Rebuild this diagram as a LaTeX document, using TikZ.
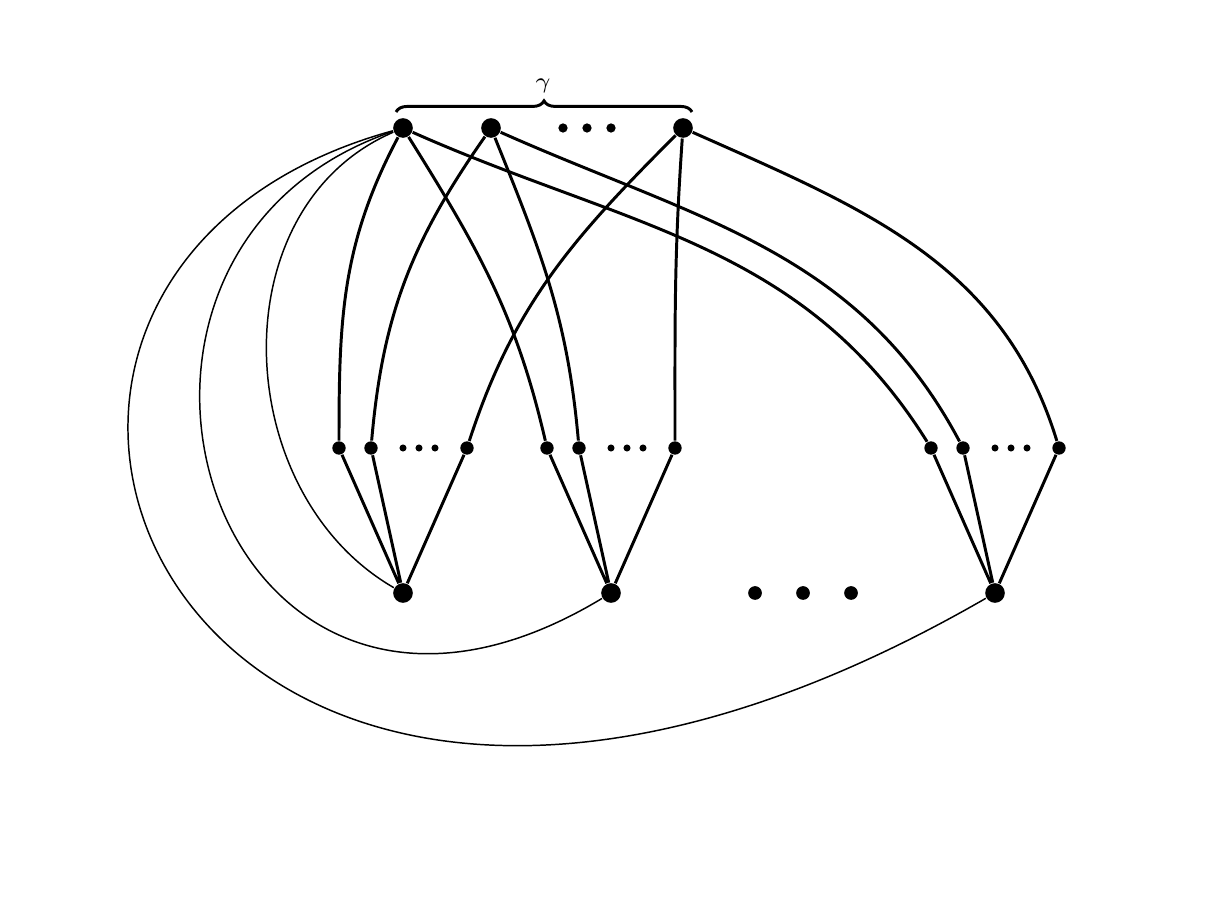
\documentclass[tikz,border=0pt]{standalone}
\usetikzlibrary{decorations.pathreplacing}
\begin{document}
\begin{tikzpicture}[x=0.27pt,y=0.27pt,
  big/.style={circle,fill=black,inner sep=0pt,minimum size=5.3pt},
  mid/.style={circle,fill=black,inner sep=0pt,minimum size=3.6pt},
  tdot/.style={circle,fill=black,inner sep=0pt,minimum size=2.5pt},
  mdot/.style={circle,fill=black,inner sep=0pt,minimum size=1.9pt},
  bdot/.style={circle,fill=black,inner sep=0pt,minimum size=3.7pt},
  thk/.style={line width=0.8pt},
  thn/.style={line width=0.4pt}]
\useasboundingbox (0,0) rectangle (1232,-912);
% top row
\node[big] (A1) at (403,-128) {};
\node[big] (A2) at (491,-128) {};
\node[tdot] (td1) at (563,-128) {};
\node[tdot] (td2) at (587,-128) {};
\node[tdot] (td3) at (611,-128) {};
\node[big] (A3) at (683,-128) {};
% brace
\coordinate (br1) at (396,-112);
\coordinate (br2) at (692,-112);
\draw[thk,decorate,decoration={brace,amplitude=3pt}] (br1) -- (br2);
\node[inner sep=0pt,font=\fontsize{6.5}{7}\selectfont] (g) at (543,-86) {$\gamma$};
% middle row
\node[mid] (L1) at (339,-448) {};
\node[mid] (L2) at (371,-448) {};
\node[mdot] (ld1) at (403,-448) {};
\node[mdot] (ld2) at (419,-448) {};
\node[mdot] (ld3) at (435,-448) {};
\node[mid] (Lk) at (467,-448) {};
\node[mid] (M1) at (547,-448) {};
\node[mid] (M2) at (579,-448) {};
\node[mdot] (md1) at (611,-448) {};
\node[mdot] (md2) at (627,-448) {};
\node[mdot] (md3) at (643,-448) {};
\node[mid] (Mk) at (675,-448) {};
\node[mid] (R1) at (931,-448) {};
\node[mid] (R2) at (963,-448) {};
\node[mdot] (rd1) at (995,-448) {};
\node[mdot] (rd2) at (1011,-448) {};
\node[mdot] (rd3) at (1027,-448) {};
\node[mid] (Rk) at (1059,-448) {};
% bottom row
\node[big] (B1) at (403,-593) {};
\node[big] (B2) at (611,-593) {};
\node[bdot] (bd1) at (755,-593) {};
\node[bdot] (bd2) at (803,-593) {};
\node[bdot] (bd3) at (851,-593) {};
\node[big] (B3) at (995,-593) {};
% middle to bottom
\draw[thk] (L1) -- (B1) (L2) -- (B1) (Lk) -- (B1);
\draw[thk] (M1) -- (B2) (M2) -- (B2) (Mk) -- (B2);
\draw[thk] (R1) -- (B3) (R2) -- (B3) (Rk) -- (B3);
% top to middle
\draw[thk] (A1) to[out=-118,in=90] (L1);
\draw[thk] (A1) to[out=-58,in=103] (M1);
\draw[thk] (A1) to[out=-24,in=122] (R1);
\draw[thk] (A2) to[out=-125,in=85] (L2);
\draw[thk] (A2) to[out=-68,in=95] (M2);
\draw[thk] (A2) to[out=-24,in=118] (R2);
\draw[thk] (A3) to[out=-135,in=72] (Lk);
\draw[thk] (A3) to[out=-94,in=90] (Mk);
\draw[thk] (A3) to[out=-24,in=107] (Rk);
% thin loops
\draw[thn] (A1) .. controls +(-185,-80) and +(-173,100) .. (B1);
\draw[thn] (A1) .. controls +(-367,-125) and +(-398,-240) .. (B2);
\draw[thn] (A1) .. controls +(-545,-150) and +(-823,-475) .. (B3);
\end{tikzpicture}
\end{document}
